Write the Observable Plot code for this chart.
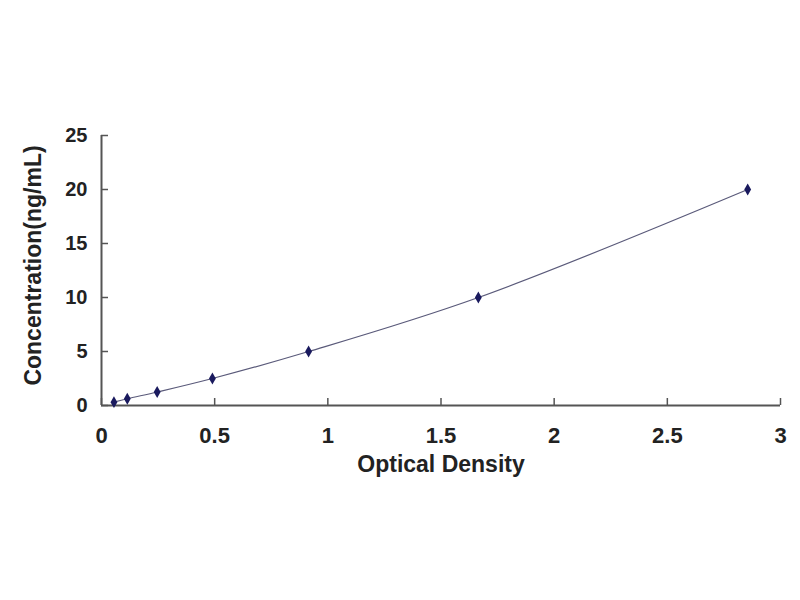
<!DOCTYPE html>
<html>
<head>
<meta charset="utf-8">
<script src="https://cdn.jsdelivr.net/npm/d3@7"></script>
<script src="https://cdn.jsdelivr.net/npm/@observablehq/plot@0.6"></script>
<style>
  body { margin: 0; background: #fff; }
  #chart svg { font-family: "Liberation Sans", Arial, sans-serif; font-weight: bold; }
</style>
</head>
<body>
<div id="chart"></div>
<script>
// standard curve points
let od = [0.055, 0.114, 0.246, 0.49, 0.915, 1.665, 2.855];
let conc = [0.312, 0.625, 1.25, 2.5, 5, 10, 20];
let xTicks = [0, 0.5, 1, 1.5, 2, 2.5, 3];
let yTicks = [0, 5, 10, 15, 20, 25];

let data = od.map((d, i) => ({ od: d, conc: conc[i] }));

let chart = Plot.plot({
  width: 800,
  height: 600,
  marginLeft: 101,
  marginRight: 20,
  marginTop: 135,
  marginBottom: 195,
  style: { fontSize: "20px", color: "#222", background: "#fff" },
  x: { domain: [0, 3] },
  y: { domain: [0, 25] },
  marks: [
    // tick marks pointing inward (no labels)
    Plot.axisX({ ticks: xTicks, tickSize: 7, dy: -7, tickFormat: () => "", stroke: "#555", strokeWidth: 1.5, label: null }),
    Plot.axisY({ ticks: yTicks, tickSize: 7, dx: 7, tickFormat: () => "", stroke: "#555", strokeWidth: 1.5, label: null }),
    // tick labels
    Plot.axisX({ ticks: xTicks, tickSize: 0, tickPadding: 22, fontSize: 22, tickFormat: (d) => String(d), label: null }),
    Plot.axisY({ ticks: yTicks, tickSize: 0, tickPadding: 14, fontSize: 20, label: null }),
    Plot.ruleY([0], { stroke: "#555", strokeWidth: 2 }),
    Plot.ruleX([0], { stroke: "#555", strokeWidth: 2 }),
    Plot.line(data, { x: "od", y: "conc", curve: "catmull-rom", stroke: "#5a5a7a", strokeWidth: 1.2 }),
    Plot.dot(data, { x: "od", y: "conc", symbol: "diamond", r: 3.6, fill: "#1a1a5e", stroke: "none" }),
    Plot.text(["Optical Density"], { frameAnchor: "bottom", dy: 66, fontSize: 23, fontWeight: "bold", fill: "#222" }),
    Plot.text(["Concentration(ng/mL)"], { frameAnchor: "left", textAnchor: "middle", dx: -68, dy: -5, rotate: -90, fontSize: 23, fontWeight: "bold", fill: "#222" })
  ]
});

d3.select("#chart").append(() => chart);
</script>
</body>
</html>
